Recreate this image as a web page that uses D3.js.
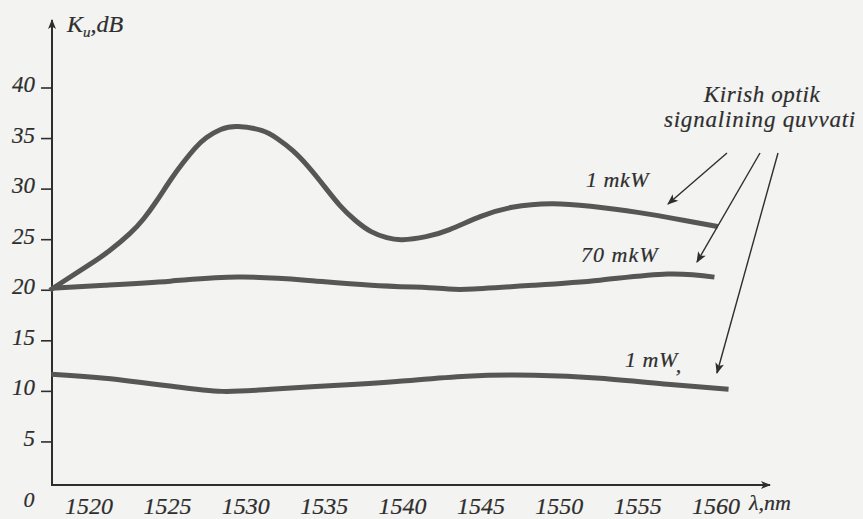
<!DOCTYPE html>
<html>
<head>
<meta charset="utf-8">
<script src="https://cdn.jsdelivr.net/npm/d3@7"></script>
<style>
  html, body { margin: 0; padding: 0; background: #f3f3f1; }
  svg { display: block; }
  text { stroke: #2e2e2e; stroke-width: 0.2px; }
</style>
</head>
<body>
<svg id="chart" width="863" height="519" font-family="'Liberation Serif', 'Times New Roman', Times, serif" font-style="italic" fill="#2e2e2e"></svg>
<script>
// Wavelength ticks (nm) and gain ticks (dB)
const xTicks = [1520, 1525, 1530, 1535, 1540, 1545, 1550, 1555, 1560];
const yTicks = [5, 10, 15, 20, 25, 30, 35, 40];

// Gain K_u (dB) versus wavelength for three input optical signal powers
const wl1mkW = [1517.5, 1520.0, 1521.3, 1522.6, 1523.5, 1524.3, 1525.2, 1526.0, 1526.8, 1527.5, 1528.4, 1529.5, 1531.0, 1532.0, 1533.0, 1534.0, 1535.0, 1536.0, 1537.0, 1538.0, 1539.0, 1540.0, 1541.5, 1543.0, 1545.0, 1547.0, 1549.5, 1552.0, 1555.0, 1558.0, 1560.1];
const k1mkW  = [20.0, 22.5, 23.9, 25.6, 27.1, 28.8, 30.9, 32.6, 34.1, 35.1, 35.9, 36.2, 35.8, 35.0, 33.8, 32.2, 30.3, 28.4, 26.9, 25.8, 25.2, 25.0, 25.3, 26.0, 27.3, 28.2, 28.55, 28.3, 27.7, 26.9, 26.3];

const wl70mkW = [1517.6, 1521.0, 1525.2, 1529.5, 1533.8, 1538.0, 1542.3, 1544.1, 1548.4, 1552.6, 1556.9, 1559.9];
const k70mkW  = [20.2, 20.5, 20.9, 21.3, 21.0, 20.5, 20.2, 20.1, 20.5, 21.0, 21.6, 21.3];

const wl1mW = [1517.6, 1521.0, 1525.3, 1528.5, 1531.6, 1535.9, 1539.8, 1544.1, 1548.4, 1552.6, 1556.9, 1560.8];
const k1mW  = [11.7, 11.3, 10.5, 10.0, 10.2, 10.6, 11.0, 11.5, 11.6, 11.3, 10.7, 10.2];

const seriesNames = ["1 mkW", "70 mkW", "1 mW"];

const svg = d3.select("#chart");

const x = d3.scaleLinear().domain([1520, 1560]).range([89, 716]);
const y = d3.scaleLinear().domain([0, 40]).range([492.5, 88]);

const axisX = 52;      // vertical axis position
const baseY = 485;     // horizontal axis position
const ink = "#2e2e2e";
const curveInk = "#565656";

// Arrowhead markers
const defs = svg.append("defs");
function marker(id, w, h) {
  defs.append("marker")
    .attr("id", id)
    .attr("viewBox", "0 0 10 10")
    .attr("refX", 9).attr("refY", 5)
    .attr("markerWidth", w).attr("markerHeight", h)
    .attr("markerUnits", "userSpaceOnUse")
    .attr("orient", "auto")
    .append("path")
    .attr("d", "M0,1 L10,5 L0,9 L2.5,5 Z")
    .attr("fill", ink);
}
marker("axisHead", 12, 10);
marker("noteHead", 13, 11);

// Axes
svg.append("line")
  .attr("x1", axisX).attr("y1", baseY + 1)
  .attr("x2", axisX).attr("y2", 20)
  .attr("stroke", ink).attr("stroke-width", 2)
  .attr("marker-end", "url(#axisHead)");
svg.append("line")
  .attr("x1", axisX - 1).attr("y1", baseY)
  .attr("x2", 770).attr("y2", baseY)
  .attr("stroke", ink).attr("stroke-width", 2)
  .attr("marker-end", "url(#axisHead)");

// Y ticks and labels
const yg = svg.append("g");
yg.selectAll("line").data(yTicks).join("line")
  .attr("x1", axisX - 11).attr("x2", axisX)
  .attr("y1", d => y(d)).attr("y2", d => y(d))
  .attr("stroke", ink).attr("stroke-width", 1.6);
yg.selectAll("text").data(yTicks).join("text")
  .attr("x", 35).attr("y", d => y(d) + 4)
  .attr("text-anchor", "end")
  .attr("font-size", 23)
  .text(d => d);

// Origin label
svg.append("text").attr("x", 29).attr("y", 507)
  .attr("text-anchor", "middle").attr("font-size", 22).text("0");

// X tick labels
svg.append("g").selectAll("text").data(xTicks).join("text")
  .attr("x", d => x(d)).attr("y", 514)
  .attr("text-anchor", "middle")
  .attr("font-size", 24)
  .text(d => d);

// Axis titles
svg.append("text").attr("x", 749).attr("y", 510).attr("font-size", 22).text("λ,nm");
const yt = svg.append("text").attr("x", 67).attr("y", 32).attr("font-size", 24);
yt.append("tspan").text("K");
yt.append("tspan").attr("font-size", 15).attr("dy", 5).text("u");
yt.append("tspan").attr("dy", -5).text(",dB");

// Curves
const line = d3.line()
  .x(d => x(d[0]))
  .y(d => y(d[1]))
  .curve(d3.curveNatural);

const series = [
  d3.zip(wl1mkW, k1mkW),
  d3.zip(wl70mkW, k70mkW),
  d3.zip(wl1mW, k1mW)
];
svg.append("g").selectAll("path").data(series).join("path")
  .attr("d", line)
  .attr("fill", "none")
  .attr("stroke", curveInk)
  .attr("stroke-width", 5)
  .attr("stroke-linecap", "butt");

// Series labels
svg.append("text").attr("x", 586).attr("y", 187).attr("font-size", 22).attr("letter-spacing", 0.5).text(seriesNames[0]);
svg.append("text").attr("x", 581).attr("y", 262).attr("font-size", 22).attr("letter-spacing", 1).text(seriesNames[1]);
const l3 = svg.append("text").attr("x", 625).attr("y", 367).attr("font-size", 22).attr("letter-spacing", 0.5);
l3.append("tspan").text(seriesNames[2]);
l3.append("tspan").attr("dy", 5).text(",");

// Annotation: input optical signal power
svg.append("text").attr("x", 762).attr("y", 102).attr("text-anchor", "middle")
  .attr("font-size", 23).attr("letter-spacing", 0.6).text("Kirish optik");
svg.append("text").attr("x", 760).attr("y", 127).attr("text-anchor", "middle")
  .attr("font-size", 23).attr("letter-spacing", 0.8).text("signalining quvvati");

const pointers = [
  [[727, 153], [668, 204]],
  [[760, 153], [697, 262]],
  [[778, 153], [717, 373]]
];
svg.append("g").selectAll("line").data(pointers).join("line")
  .attr("x1", d => d[0][0]).attr("y1", d => d[0][1])
  .attr("x2", d => d[1][0]).attr("y2", d => d[1][1])
  .attr("stroke", ink).attr("stroke-width", 1.4)
  .attr("marker-end", "url(#noteHead)");
</script>
</body>
</html>
